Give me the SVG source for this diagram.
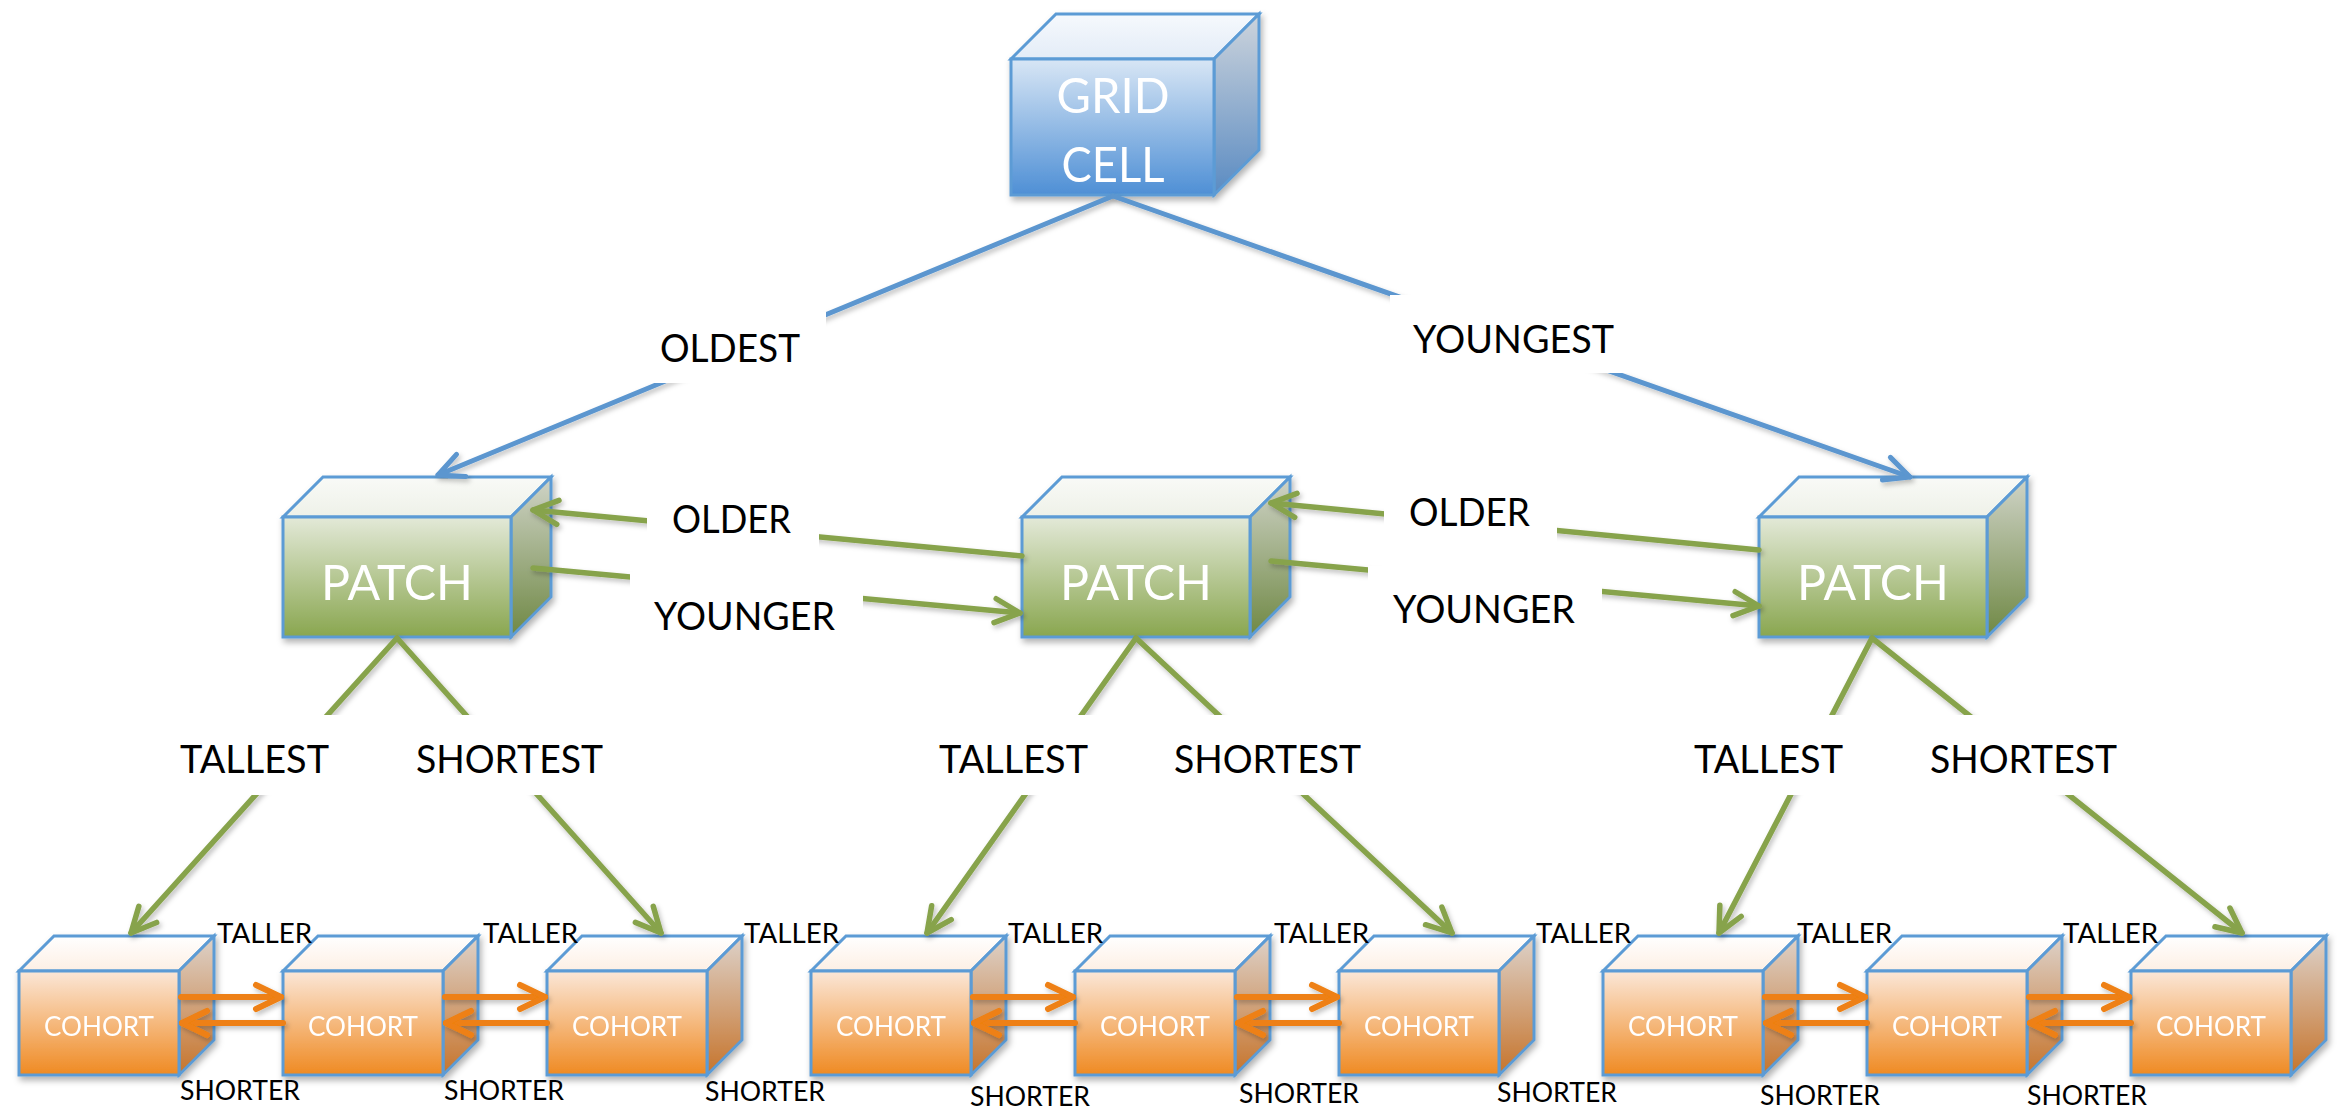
<svg xmlns="http://www.w3.org/2000/svg" width="2337" height="1111" viewBox="0 0 2337 1111">
<defs>
<style>
.face{stroke:#5b9bd5;stroke-width:3;stroke-linejoin:miter}
.in{fill:#fff;font-family:Lato,"Open Sans","Liberation Sans",sans-serif;text-anchor:middle}
.lb{fill:#000;font-family:Lato,"Open Sans","Liberation Sans",sans-serif}
.big{font-size:39px}
.sm{font-size:26px}
.bg{fill:#fff}
.cb{fill:none;stroke:#5b96cf;stroke-width:5;stroke-linecap:round}
.cg{fill:none;stroke:#87a34c;stroke-width:5.5;stroke-linecap:round}
.co{fill:none;stroke:#ee8012;stroke-width:6;stroke-linecap:round}
</style>
<linearGradient id="fB" x1="0" y1="0" x2="0" y2="1"><stop offset="0" stop-color="#d8e6f5"/><stop offset="1" stop-color="#4e8fd5"/></linearGradient>
<linearGradient id="tB" x1="0" y1="0" x2="0" y2="1"><stop offset="0" stop-color="#f6f9fd"/><stop offset="1" stop-color="#e3ecf7"/></linearGradient>
<linearGradient id="sB" x1="0" y1="0" x2="0" y2="1"><stop offset="0" stop-color="#cdd4dc"/><stop offset="1" stop-color="#5a8bc2"/></linearGradient>
<linearGradient id="fG" x1="0" y1="0" x2="0" y2="1"><stop offset="0" stop-color="#e3e9d8"/><stop offset="1" stop-color="#89a64f"/></linearGradient>
<linearGradient id="tG" x1="0" y1="0" x2="0" y2="1"><stop offset="0" stop-color="#f9faf7"/><stop offset="1" stop-color="#eef1e8"/></linearGradient>
<linearGradient id="sG" x1="0" y1="0" x2="0" y2="1"><stop offset="0" stop-color="#d0d4c8"/><stop offset="1" stop-color="#6f8844"/></linearGradient>
<linearGradient id="fO" x1="0" y1="0" x2="0" y2="1"><stop offset="0" stop-color="#fbe7d8"/><stop offset="1" stop-color="#ef8a22"/></linearGradient>
<linearGradient id="tO" x1="0" y1="0" x2="0" y2="1"><stop offset="0" stop-color="#ffffff"/><stop offset="1" stop-color="#fdefe4"/></linearGradient>
<linearGradient id="sO" x1="0" y1="0" x2="0" y2="1"><stop offset="0" stop-color="#ddd2ca"/><stop offset="1" stop-color="#c6742c"/></linearGradient>
<filter id="sh" filterUnits="userSpaceOnUse" x="0" y="0" width="2337" height="1111"><feDropShadow dx="2" dy="4" stdDeviation="3" flood-color="#000" flood-opacity="0.3"/></filter>
<filter id="shl" filterUnits="userSpaceOnUse" x="0" y="0" width="2337" height="1111"><feDropShadow dx="2" dy="3" stdDeviation="2.5" flood-color="#000" flood-opacity="0.25"/></filter>
<marker id="aB" viewBox="-32 -18 40 36" refX="0" refY="0" markerWidth="40" markerHeight="36" markerUnits="userSpaceOnUse" orient="auto"><path d="M-25,-12 L0,0 L-25,12" fill="none" stroke="#5b96cf" stroke-width="5" stroke-linecap="round" stroke-linejoin="round"/></marker>
<marker id="aG" viewBox="-32 -18 40 36" refX="0" refY="0" markerWidth="40" markerHeight="36" markerUnits="userSpaceOnUse" orient="auto"><path d="M-25,-12 L0,0 L-25,12" fill="none" stroke="#87a34c" stroke-width="5.5" stroke-linecap="round" stroke-linejoin="round"/></marker>
<marker id="aO" viewBox="-32 -18 40 36" refX="0" refY="0" markerWidth="40" markerHeight="36" markerUnits="userSpaceOnUse" orient="auto"><path d="M-25,-12 L0,0 L-25,12" fill="none" stroke="#ee8012" stroke-width="6" stroke-linecap="round" stroke-linejoin="round"/></marker>
</defs>
<rect width="2337" height="1111" fill="#fff"/>

<g id="nodes" filter="url(#sh)">
<g id="grid-cell">
<polygon class="face" fill="url(#tB)" points="1011,59 1056,14 1259,14 1214,59"/>
<polygon class="face" fill="url(#sB)" points="1214,59 1259,14 1259,150 1214,195"/>
<rect class="face" fill="url(#fB)" x="1011" y="59" width="203" height="136"/>
<text class="in" x="1113" y="113" font-size="49" textLength="113" lengthAdjust="spacingAndGlyphs">GRID</text>
<text class="in" x="1113" y="182" font-size="49" textLength="103" lengthAdjust="spacingAndGlyphs">CELL</text>
</g>
<g id="patch-1">
<polygon class="face" fill="url(#tG)" points="283,517 323,477 551,477 511,517"/>
<polygon class="face" fill="url(#sG)" points="511,517 551,477 551,597 511,637"/>
<rect class="face" fill="url(#fG)" x="283" y="517" width="228" height="120"/>
<text class="in" x="397" y="600" font-size="49" textLength="152" lengthAdjust="spacingAndGlyphs">PATCH</text>
</g>
<g id="patch-2">
<polygon class="face" fill="url(#tG)" points="1022,517 1062,477 1290,477 1250,517"/>
<polygon class="face" fill="url(#sG)" points="1250,517 1290,477 1290,597 1250,637"/>
<rect class="face" fill="url(#fG)" x="1022" y="517" width="228" height="120"/>
<text class="in" x="1136" y="600" font-size="49" textLength="152" lengthAdjust="spacingAndGlyphs">PATCH</text>
</g>
<g id="patch-3">
<polygon class="face" fill="url(#tG)" points="1759,517 1799,477 2027,477 1987,517"/>
<polygon class="face" fill="url(#sG)" points="1987,517 2027,477 2027,597 1987,637"/>
<rect class="face" fill="url(#fG)" x="1759" y="517" width="228" height="120"/>
<text class="in" x="1873" y="600" font-size="49" textLength="152" lengthAdjust="spacingAndGlyphs">PATCH</text>
</g>
<g id="cohort-1">
<polygon class="face" fill="url(#tO)" points="19,971 54,936 214,936 179,971"/>
<polygon class="face" fill="url(#sO)" points="179,971 214,936 214,1040 179,1075"/>
<rect class="face" fill="url(#fO)" x="19" y="971" width="160" height="104"/>
<text class="in" x="99" y="1036" font-size="27" textLength="110" lengthAdjust="spacingAndGlyphs">COHORT</text>
</g>
<g id="cohort-2">
<polygon class="face" fill="url(#tO)" points="283,971 318,936 478,936 443,971"/>
<polygon class="face" fill="url(#sO)" points="443,971 478,936 478,1040 443,1075"/>
<rect class="face" fill="url(#fO)" x="283" y="971" width="160" height="104"/>
<text class="in" x="363" y="1036" font-size="27" textLength="110" lengthAdjust="spacingAndGlyphs">COHORT</text>
</g>
<g id="cohort-3">
<polygon class="face" fill="url(#tO)" points="547,971 582,936 742,936 707,971"/>
<polygon class="face" fill="url(#sO)" points="707,971 742,936 742,1040 707,1075"/>
<rect class="face" fill="url(#fO)" x="547" y="971" width="160" height="104"/>
<text class="in" x="627" y="1036" font-size="27" textLength="110" lengthAdjust="spacingAndGlyphs">COHORT</text>
</g>
<g id="cohort-4">
<polygon class="face" fill="url(#tO)" points="811,971 846,936 1006,936 971,971"/>
<polygon class="face" fill="url(#sO)" points="971,971 1006,936 1006,1040 971,1075"/>
<rect class="face" fill="url(#fO)" x="811" y="971" width="160" height="104"/>
<text class="in" x="891" y="1036" font-size="27" textLength="110" lengthAdjust="spacingAndGlyphs">COHORT</text>
</g>
<g id="cohort-5">
<polygon class="face" fill="url(#tO)" points="1075,971 1110,936 1270,936 1235,971"/>
<polygon class="face" fill="url(#sO)" points="1235,971 1270,936 1270,1040 1235,1075"/>
<rect class="face" fill="url(#fO)" x="1075" y="971" width="160" height="104"/>
<text class="in" x="1155" y="1036" font-size="27" textLength="110" lengthAdjust="spacingAndGlyphs">COHORT</text>
</g>
<g id="cohort-6">
<polygon class="face" fill="url(#tO)" points="1339,971 1374,936 1534,936 1499,971"/>
<polygon class="face" fill="url(#sO)" points="1499,971 1534,936 1534,1040 1499,1075"/>
<rect class="face" fill="url(#fO)" x="1339" y="971" width="160" height="104"/>
<text class="in" x="1419" y="1036" font-size="27" textLength="110" lengthAdjust="spacingAndGlyphs">COHORT</text>
</g>
<g id="cohort-7">
<polygon class="face" fill="url(#tO)" points="1603,971 1638,936 1798,936 1763,971"/>
<polygon class="face" fill="url(#sO)" points="1763,971 1798,936 1798,1040 1763,1075"/>
<rect class="face" fill="url(#fO)" x="1603" y="971" width="160" height="104"/>
<text class="in" x="1683" y="1036" font-size="27" textLength="110" lengthAdjust="spacingAndGlyphs">COHORT</text>
</g>
<g id="cohort-8">
<polygon class="face" fill="url(#tO)" points="1867,971 1902,936 2062,936 2027,971"/>
<polygon class="face" fill="url(#sO)" points="2027,971 2062,936 2062,1040 2027,1075"/>
<rect class="face" fill="url(#fO)" x="1867" y="971" width="160" height="104"/>
<text class="in" x="1947" y="1036" font-size="27" textLength="110" lengthAdjust="spacingAndGlyphs">COHORT</text>
</g>
<g id="cohort-9">
<polygon class="face" fill="url(#tO)" points="2131,971 2166,936 2326,936 2291,971"/>
<polygon class="face" fill="url(#sO)" points="2291,971 2326,936 2326,1040 2291,1075"/>
<rect class="face" fill="url(#fO)" x="2131" y="971" width="160" height="104"/>
<text class="in" x="2211" y="1036" font-size="27" textLength="110" lengthAdjust="spacingAndGlyphs">COHORT</text>
</g>
</g>

<g id="connectors" filter="url(#shl)">
<path class="cb" d="M1113,196 L438,475" marker-end="url(#aB)"/>
<path class="cb" d="M1113,196 L1910,477" marker-end="url(#aB)"/>
<path class="cg" d="M1022,556 L533,510" marker-end="url(#aG)"/>
<path class="cg" d="M533,568 L1020,613" marker-end="url(#aG)"/>
<path class="cg" d="M1759,550 L1271,503" marker-end="url(#aG)"/>
<path class="cg" d="M1271,561 L1759,606" marker-end="url(#aG)"/>
<path class="cg" d="M397,638 L131,933" marker-end="url(#aG)"/>
<path class="cg" d="M397,638 L661,933" marker-end="url(#aG)"/>
<path class="cg" d="M1136,638 L927,933" marker-end="url(#aG)"/>
<path class="cg" d="M1136,638 L1452,933" marker-end="url(#aG)"/>
<path class="cg" d="M1872,638 L1719,933" marker-end="url(#aG)"/>
<path class="cg" d="M1872,638 L2242,933" marker-end="url(#aG)"/>
<path class="co" d="M181,997 L281,997" marker-end="url(#aO)"/>
<path class="co" d="M283,1023 L182,1023" marker-end="url(#aO)"/>
<path class="co" d="M445,997 L545,997" marker-end="url(#aO)"/>
<path class="co" d="M547,1023 L446,1023" marker-end="url(#aO)"/>
<path class="co" d="M973,997 L1073,997" marker-end="url(#aO)"/>
<path class="co" d="M1075,1023 L974,1023" marker-end="url(#aO)"/>
<path class="co" d="M1237,997 L1337,997" marker-end="url(#aO)"/>
<path class="co" d="M1339,1023 L1238,1023" marker-end="url(#aO)"/>
<path class="co" d="M1765,997 L1865,997" marker-end="url(#aO)"/>
<path class="co" d="M1867,1023 L1766,1023" marker-end="url(#aO)"/>
<path class="co" d="M2029,997 L2129,997" marker-end="url(#aO)"/>
<path class="co" d="M2131,1023 L2030,1023" marker-end="url(#aO)"/>
</g>

<g id="labels">
<rect class="bg" x="645" y="312" width="181" height="71"/>
<rect class="bg" x="1390" y="295" width="240" height="78"/>
<rect class="bg" x="647" y="490" width="172" height="75"/>
<rect class="bg" x="630" y="572" width="233" height="83"/>
<rect class="bg" x="1384" y="480" width="173" height="80"/>
<rect class="bg" x="1368" y="566" width="234" height="84"/>
<rect class="bg" x="165" y="715" width="180" height="80"/>
<rect class="bg" x="400" y="715" width="220" height="80"/>
<rect class="bg" x="924" y="715" width="179" height="80"/>
<rect class="bg" x="1159" y="715" width="217" height="80"/>
<rect class="bg" x="1679" y="715" width="178" height="80"/>
<rect class="bg" x="1915" y="715" width="216" height="80"/>
<text class="lb big" x="660" y="362" textLength="140" lengthAdjust="spacingAndGlyphs">OLDEST</text>
<text class="lb big" x="1413" y="353" textLength="201" lengthAdjust="spacingAndGlyphs">YOUNGEST</text>
<text class="lb big" x="672" y="533" textLength="119" lengthAdjust="spacingAndGlyphs">OLDER</text>
<text class="lb big" x="654" y="630" textLength="181" lengthAdjust="spacingAndGlyphs">YOUNGER</text>
<text class="lb big" x="1409" y="526" textLength="121" lengthAdjust="spacingAndGlyphs">OLDER</text>
<text class="lb big" x="1393" y="623" textLength="182" lengthAdjust="spacingAndGlyphs">YOUNGER</text>
<text class="lb big" x="180" y="773" textLength="149" lengthAdjust="spacingAndGlyphs">TALLEST</text>
<text class="lb big" x="416" y="773" textLength="187" lengthAdjust="spacingAndGlyphs">SHORTEST</text>
<text class="lb big" x="939" y="773" textLength="149" lengthAdjust="spacingAndGlyphs">TALLEST</text>
<text class="lb big" x="1174" y="773" textLength="187" lengthAdjust="spacingAndGlyphs">SHORTEST</text>
<text class="lb big" x="1694" y="773" textLength="149" lengthAdjust="spacingAndGlyphs">TALLEST</text>
<text class="lb big" x="1930" y="773" textLength="187" lengthAdjust="spacingAndGlyphs">SHORTEST</text>
<text class="lb sm" x="217" y="943" textLength="95" lengthAdjust="spacingAndGlyphs">TALLER</text>
<text class="lb sm" x="483" y="943" textLength="95" lengthAdjust="spacingAndGlyphs">TALLER</text>
<text class="lb sm" x="744" y="943" textLength="95" lengthAdjust="spacingAndGlyphs">TALLER</text>
<text class="lb sm" x="1008" y="943" textLength="95" lengthAdjust="spacingAndGlyphs">TALLER</text>
<text class="lb sm" x="1274" y="943" textLength="95" lengthAdjust="spacingAndGlyphs">TALLER</text>
<text class="lb sm" x="1536" y="943" textLength="95" lengthAdjust="spacingAndGlyphs">TALLER</text>
<text class="lb sm" x="1797" y="943" textLength="95" lengthAdjust="spacingAndGlyphs">TALLER</text>
<text class="lb sm" x="2063" y="943" textLength="95" lengthAdjust="spacingAndGlyphs">TALLER</text>
<text class="lb sm" x="180" y="1100" textLength="120" lengthAdjust="spacingAndGlyphs">SHORTER</text>
<text class="lb sm" x="444" y="1100" textLength="120" lengthAdjust="spacingAndGlyphs">SHORTER</text>
<text class="lb sm" x="705" y="1101" textLength="120" lengthAdjust="spacingAndGlyphs">SHORTER</text>
<text class="lb sm" x="970" y="1106" textLength="120" lengthAdjust="spacingAndGlyphs">SHORTER</text>
<text class="lb sm" x="1239" y="1103" textLength="120" lengthAdjust="spacingAndGlyphs">SHORTER</text>
<text class="lb sm" x="1497" y="1102" textLength="120" lengthAdjust="spacingAndGlyphs">SHORTER</text>
<text class="lb sm" x="1760" y="1105" textLength="120" lengthAdjust="spacingAndGlyphs">SHORTER</text>
<text class="lb sm" x="2027" y="1105" textLength="120" lengthAdjust="spacingAndGlyphs">SHORTER</text>
</g>
</svg>
